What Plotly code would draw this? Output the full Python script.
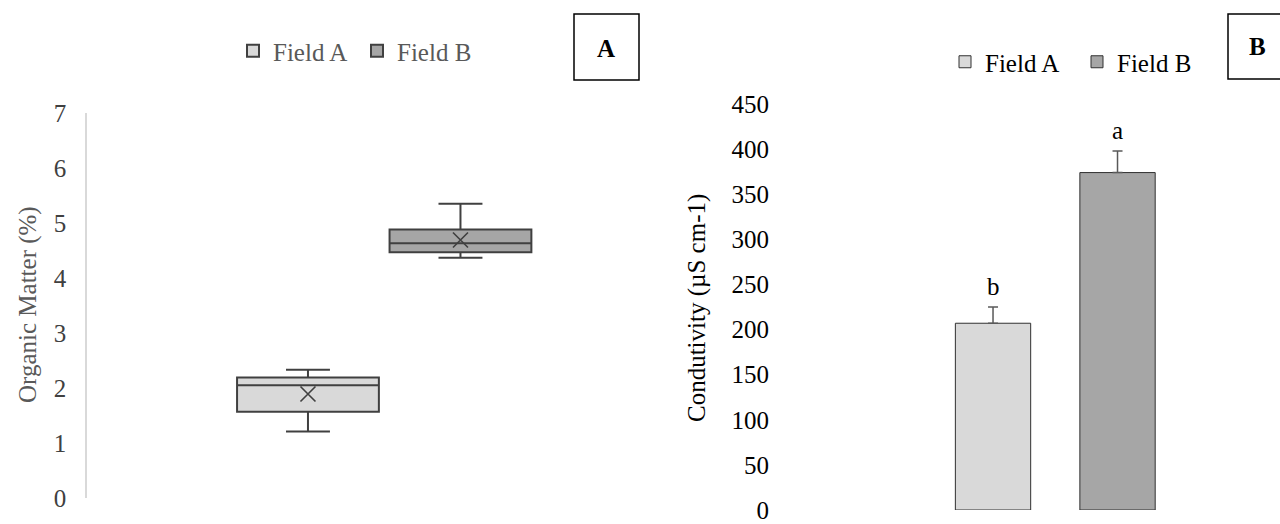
import plotly.graph_objects as go

W, H = 1280, 524

# ---------------- data ----------------
fields = ["Field A", "Field B"]
# Panel A: organic matter (%) box statistics
om_q1 = [1.57, 4.47]
om_median = [2.05, 4.63]
om_q3 = [2.19, 4.88]
om_low = [1.21, 4.37]
om_high = [2.33, 5.35]
om_mean = [1.89, 4.69]
# Panel B: conductivity (µS cm-1)
cond_mean = [207, 374]
cond_err = [18, 24]
cond_letters = ["b", "a"]

fills = ["#d9d9d9", "#a6a6a6"]
edge = "#404040"
grayfont = "#595959"
FONT = "Liberation Serif"
FS = 25

def px(x):
    return x / W

def py(y):
    return 1 - y / H

fig = go.Figure()

for i, f in enumerate(fields):
    fig.add_trace(go.Box(
        x=[f], q1=[om_q1[i]], median=[om_median[i]], q3=[om_q3[i]],
        lowerfence=[om_low[i]], upperfence=[om_high[i]],
        name=f, fillcolor=fills[i], line=dict(color=edge, width=2),
        whiskerwidth=0.31, boxpoints=False, legend="legend",
        xaxis="x", yaxis="y", hoverinfo="skip"))

fig.add_trace(go.Scatter(
    x=fields, y=om_mean, mode="markers", showlegend=False,
    marker=dict(symbol="x-thin-open", size=15, color=edge,
                line=dict(color=edge, width=1.6)),
    xaxis="x", yaxis="y"))

for i, f in enumerate(fields):
    fig.add_trace(go.Bar(
        x=[f], y=[cond_mean[i]], name=f,
        marker=dict(color=fills[i], line=dict(color="#303030", width=1)),
        error_y=dict(type="data", array=[cond_err[i]], symmetric=False,
                     arrayminus=[0], color="#595959", thickness=1.5, width=5),
        legend="legend2", xaxis="x2", yaxis="y2"))

for i, f in enumerate(fields):
    fig.add_annotation(x=f, y=cond_mean[i] + cond_err[i], xref="x2", yref="y2",
                       text=cond_letters[i], showarrow=False, xanchor="center",
                       yanchor="bottom", yshift=5,
                       font=dict(family=FONT, size=FS, color="black"))

# Axis titles
fig.add_annotation(x=px(28), y=py(305), xref="paper", yref="paper",
                   text="Organic Matter (%)", textangle=-90, showarrow=False,
                   xanchor="center", yanchor="middle",
                   font=dict(family=FONT, size=FS, color=grayfont))
fig.add_annotation(x=px(697), y=py(308), xref="paper", yref="paper",
                   text="Condutivity (µS cm-1)", textangle=-90, showarrow=False,
                   xanchor="center", yanchor="middle",
                   font=dict(family=FONT, size=FS, color="black"))

# Panel labels
fig.add_shape(type="rect", xref="paper", yref="paper", x0=px(574), x1=px(639),
              y0=py(80), y1=py(14), line=dict(color="black", width=1.5))
fig.add_annotation(x=px(606), y=py(48), xref="paper", yref="paper", text="<b>A</b>",
                   showarrow=False, xanchor="center", yanchor="middle",
                   font=dict(family=FONT, size=FS, color="black"))
fig.add_shape(type="rect", xref="paper", yref="paper", x0=px(1228), x1=px(1300),
              y0=py(79), y1=py(14), line=dict(color="black", width=1.5))
fig.add_annotation(x=px(1257), y=py(47), xref="paper", yref="paper", text="<b>B</b>",
                   showarrow=False, xanchor="center", yanchor="middle",
                   font=dict(family=FONT, size=FS, color="black"))

fig.update_layout(
    width=W, height=H, margin=dict(l=0, r=0, t=0, b=0, autoexpand=False),
    paper_bgcolor="white", plot_bgcolor="white",
    boxmode="overlay", boxgap=0.07, boxgroupgap=0, bargap=0.395,
    xaxis=dict(domain=[px(87), px(679)], type="category", range=[-1.449, 2.433],
               showticklabels=False, showgrid=False, zeroline=False, showline=False),
    yaxis=dict(domain=[py(498), py(113)], range=[0, 7], dtick=1, showgrid=False,
               zeroline=False, showline=True, linecolor="#d9d9d9", linewidth=1.5,
               ticks="", ticklabelstandoff=14, ticklabeloverflow="allow",
               tickfont=dict(family=FONT, size=FS, color=edge)),
    xaxis2=dict(domain=[px(780), 1], anchor="y2", type="category", range=[-1.711, 2.305],
                showticklabels=False, showgrid=False, zeroline=False, showline=False),
    yaxis2=dict(domain=[py(510), py(104)], anchor="x2", range=[0, 450], dtick=50,
                showgrid=False, zeroline=False, showline=False, ticks="",
                ticklabelstandoff=10, ticklabeloverflow="allow",
                tickfont=dict(family=FONT, size=FS, color="black")),
    legend=dict(orientation="h", x=px(233), y=py(51), xanchor="left", yanchor="middle",
                font=dict(family=FONT, size=FS, color=grayfont),
                entrywidth=79, entrywidthmode="pixels",
                bgcolor="rgba(0,0,0,0)", itemclick=False),
    legend2=dict(orientation="h", x=px(945), y=py(62), xanchor="left", yanchor="middle",
                 font=dict(family=FONT, size=FS, color="black"),
                 entrywidth=87, entrywidthmode="pixels",
                 bgcolor="rgba(0,0,0,0)", itemclick=False),
    showlegend=True,
)

fig.write_html(
    "out.html",
    config={"displayModeBar": False},
    post_script="document.body.style.margin='0';document.body.style.padding='0';"
                "document.body.style.overflow='hidden';",
)
